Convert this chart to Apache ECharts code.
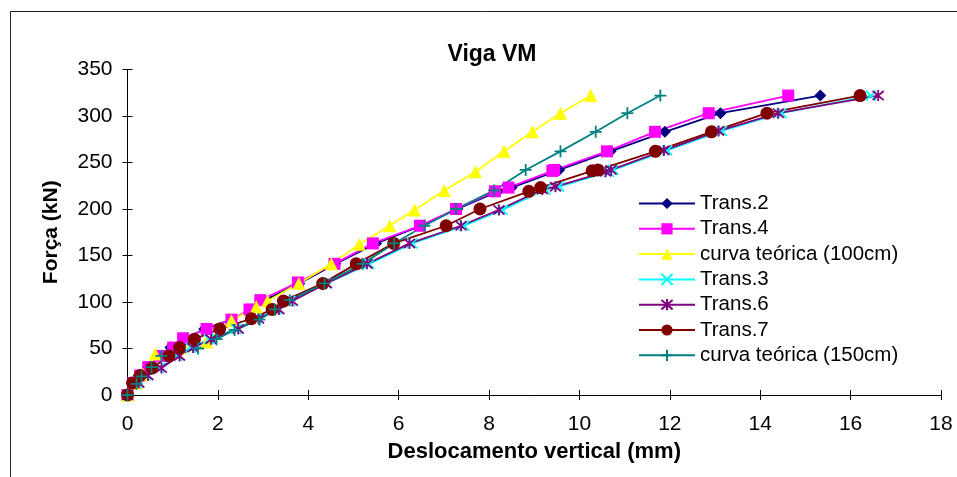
<!DOCTYPE html>
<html>
<head>
<meta charset="utf-8">
<script src="https://cdn.jsdelivr.net/npm/echarts@6/dist/echarts.min.js"></script>
<style>
  html, body { margin: 0; padding: 0; background: #fff; }
  #chart { width: 957px; height: 477px; }
</style>
</head>
<body>
<div id="chart"></div>
<script>
// dados: [deslocamento (mm), força (kN)]
var trans2 = [[0,0],[0.1,13],[0.25,21],[0.45,30],[0.7,42],[0.95,51],[1.25,60],[1.7,71],[2.3,81],[2.75,92],[3.0,101],[3.8,120],[4.6,141],[5.5,163],[6.5,182],[7.3,200],[8.2,219],[8.5,223],[9.5,241],[9.55,242],[10.69,262],[11.89,283],[13.12,303],[15.33,322]];
var trans4 = [[0,0],[0.13,13],[0.28,21],[0.46,30],[0.72,42],[1.01,51],[1.23,61],[1.75,71],[2.3,81],[2.7,92],[2.94,102],[3.77,121],[4.58,141],[5.43,163],[6.47,182],[7.27,200],[8.13,219],[8.43,223],[9.4,241],[9.44,242],[10.61,262],[11.67,283],[12.86,303],[14.62,322]];
var teorica100 = [[0,0],[0.2,13],[0.35,22],[0.61,44],[1.15,50],[1.75,57],[2.3,80],[2.85,95],[3.1,101],[3.79,120],[4.51,141],[5.13,162],[5.8,182],[6.35,199],[7.01,220],[7.7,240],[8.33,262],[8.96,283],[9.58,303],[10.25,322]];
var trans3 = [[0,0],[0.2,13],[0.4,21],[0.7,29],[1.1,42],[1.4,51],[1.8,60],[2.4,71],[2.85,82],[3.3,92],[3.6,101],[4.4,120],[5.35,141],[6.3,163],[7.45,182],[8.3,199],[9.25,221],[9.55,224],[10.65,240],[10.75,242],[11.94,263],[13.15,284],[14.47,303],[16.45,322]];
var trans6 = [[0,0],[0.25,13],[0.45,21],[0.75,29],[1.15,42],[1.45,51],[1.85,60],[2.45,71],[2.9,82],[3.35,92],[3.65,101],[4.4,120],[5.3,141],[6.24,163],[7.38,182],[8.22,199],[9.18,221],[9.47,224],[10.58,240],[10.7,242],[11.87,263],[13.08,284],[14.4,303],[16.61,322]];
var trans7 = [[0,0],[0.11,13],[0.28,21],[0.54,29],[0.92,42],[1.15,51],[1.48,60],[2.04,71],[2.74,82],[3.2,92],[3.45,101],[4.32,120],[5.06,141],[5.89,163],[7.05,182],[7.8,200],[8.88,219],[9.14,223],[10.28,241],[10.41,242],[11.68,262],[12.92,283],[14.15,303],[16.21,322]];
var teorica150 = [[0,0],[0.2,12],[0.31,20],[0.53,30],[0.75,42],[1.56,50],[1.97,60],[2.37,70],[2.92,81],[3.26,92],[3.59,102],[4.36,120],[5.2,141],[5.9,163],[6.57,182],[7.27,200],[8.11,220],[8.81,242],[9.58,262],[10.36,283],[11.06,303],[11.79,322]];

var nomes = ['Trans.2', 'Trans.4', 'curva teórica (100cm)', 'Trans.3', 'Trans.6', 'Trans.7', 'curva teórica (150cm)'];
var cores = ['#000080', '#FF00FF', '#FFFF00', '#00FFFF', '#800080', '#800000', '#008080'];

var FONTE = '"Liberation Sans", Arial, sans-serif';

// marcadores do estilo Excel
var simboloX = 'path://M0,0L10,10M10,0L0,10';
var simboloEstrela = 'path://M0,0L10,10M10,0L0,10M5,-1L5,11';
var simboloMais = 'path://M5,0L5,10M0,5L10,5';

function serie(nome, dados, cor, simbolo, tam, traco) {
  var s = {
    name: nome,
    type: 'line',
    data: dados,
    symbol: simbolo,
    symbolSize: tam,
    showAllSymbol: true,
    lineStyle: { color: cor, width: 1.8 },
    itemStyle: { color: cor },
    xAxisIndex: 0,
    yAxisIndex: 0
  };
  if (traco) {
    s.itemStyle = { color: cor, borderColor: cor, borderWidth: 1.8 };
  }
  return s;
}

var chart = echarts.init(document.getElementById('chart'), null, { renderer: 'canvas' });

var option = {
  animation: false,
  backgroundColor: '#ffffff',
  textStyle: { fontFamily: FONTE },
  title: {
    text: 'Viga VM',
    left: 487,
    top: 38,
    textAlign: 'center',
    textStyle: { fontSize: 23, fontWeight: 'bold', color: '#000', fontFamily: FONTE }
  },
  graphic: [{
    type: 'rect',
    shape: { x: 10.5, y: 11.5, width: 980, height: 500 },
    style: { fill: 'none', stroke: '#222', lineWidth: 1 },
    silent: true
  }],
  legend: {
    orient: 'vertical',
    left: 633,
    top: 188,
    itemWidth: 56,
    itemHeight: 14,
    itemGap: 4.3,
    data: nomes,
    textStyle: { fontSize: 20.5, color: '#000', fontFamily: FONTE }
  },
  grid: { left: 127.5, right: 16, top: 69.5, bottom: 82 },
  xAxis: [{
    type: 'value',
    min: 0, max: 18, interval: 2,
    position: 'bottom',
    name: 'Deslocamento vertical (mm)',
    nameLocation: 'middle',
    nameGap: 46,
    nameTextStyle: { fontSize: 22, fontWeight: 'bold', color: '#000', fontFamily: FONTE },
    axisLine: { show: true, onZero: false, lineStyle: { color: '#000', width: 1 } },
    axisTick: { show: true, inside: false, length: 5, lineStyle: { color: '#000' } },
    axisLabel: { fontSize: 21, color: '#000', margin: 19, fontFamily: FONTE },
    splitLine: { show: false }
  }, {
    type: 'value',
    min: 0, max: 18, interval: 2,
    position: 'bottom',
    offset: 0,
    axisLine: { show: false },
    axisTick: { show: true, inside: true, length: 5, lineStyle: { color: '#000' } },
    axisLabel: { show: false },
    splitLine: { show: false }
  }],
  yAxis: [{
    type: 'value',
    min: 0, max: 350, interval: 50,
    position: 'left',
    name: 'Força (kN)',
    nameLocation: 'middle',
    nameGap: 66,
    nameRotate: 90,
    nameTextStyle: { fontSize: 21, fontWeight: 'bold', color: '#000', fontFamily: FONTE },
    axisLine: { show: true, onZero: false, lineStyle: { color: '#000', width: 1 } },
    axisTick: { show: true, inside: false, length: 5, lineStyle: { color: '#000' } },
    axisLabel: { fontSize: 21, color: '#000', margin: 15, fontFamily: FONTE },
    splitLine: { show: false }
  }, {
    type: 'value',
    min: 0, max: 350, interval: 50,
    position: 'left',
    offset: 0,
    axisLine: { show: false },
    axisTick: { show: true, inside: true, length: 5, lineStyle: { color: '#000' } },
    axisLabel: { show: false },
    splitLine: { show: false }
  }],
  series: [
    serie(nomes[0], trans2, cores[0], 'diamond', 12),
    serie(nomes[1], trans4, cores[1], 'rect', 12),
    serie(nomes[2], teorica100, cores[2], 'triangle', 13),
    serie(nomes[3], trans3, cores[3], simboloX, 10, true),
    serie(nomes[4], trans6, cores[4], simboloEstrela, 11, true),
    serie(nomes[5], trans7, cores[5], 'circle', 13),
    serie(nomes[6], teorica150, cores[6], simboloMais, 12, true)
  ]
};

chart.setOption(option);
</script>
</body>
</html>
